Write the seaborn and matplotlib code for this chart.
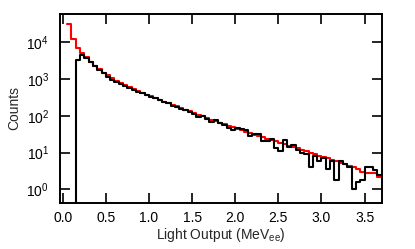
import numpy as np
import pandas as pd
import matplotlib
matplotlib.use("Agg")
import matplotlib.pyplot as plt
import seaborn as sns
from matplotlib.ticker import MultipleLocator, LogLocator, NullLocator, FormatStrFormatter

# 0.05 MeVee bins from 0.05 to 3.70
bin_edges = np.linspace(0.05, 3.70, 74)
bin_centers = bin_edges[:-1] + 0.025

# simulated spectrum (red)
sim_counts = [30900, 12590, 7244, 5129, 3981, 3020, 2344, 1862, 1514, 1259,
              1047, 891, 776, 676, 603, 525, 468, 427, 380, 339,
              309, 275, 245, 224, 200, 182, 162, 148, 132, 120,
              107, 98, 87, 79, 72, 65, 59, 54, 49, 45,
              41, 37, 34, 31, 29, 26, 24, 22.4, 20.4, 18.6,
              17.0, 15.5, 14.5, 13.2, 12.0, 11.0, 10.0, 9.1, 8.3, 7.6,
              6.9, 6.3, 5.8, 5.2, 4.8, 4.4, 4.0, 3.6, 2.9, 2.8,
              2.75, 2.7, 2.2]

# measured spectrum (black), threshold at 0.15
meas_counts = [0, 0, 3390, 4680, 3800, 2884, 2239, 1778, 1445, 1175,
               977, 851, 724, 631, 562, 513, 447, 407, 363, 331,
               302, 263, 240, 219, 191, 178, 155, 145, 126, 115,
               93, 98, 83, 69, 76, 63, 55, 46, 40, 46,
               43, 42, 28, 32, 32, 21, 20, 23, 13, 11,
               22, 14, 16, 12, 10, 9, 4, 8, 6, 7,
               3.6, 6, 1.8, 6, 5, 4, 1, 1.6, 1.8, 4,
               4, 3.4, 2.5]

df = pd.DataFrame({"light": bin_centers, "sim": sim_counts, "meas": meas_counts})

sns.set_style("ticks")
plt.rcParams["font.family"] = ["Liberation Sans", "DejaVu Sans"]
plt.rcParams["mathtext.fontset"] = "custom"
plt.rcParams["mathtext.rm"] = "Liberation Sans"
plt.rcParams["mathtext.it"] = "Liberation Sans:italic"

fig = plt.figure(figsize=(4.15, 2.49), dpi=100)
ax = fig.add_axes([0.145, 0.186, 0.775, 0.757])

sns.histplot(data=df, x="light", weights="sim", bins=list(bin_edges), element="step",
             fill=False, color="#ff0000", linewidth=1.5, ax=ax)
sns.histplot(data=df, x="light", weights="meas", bins=list(bin_edges), element="step",
             fill=False, color="black", linewidth=1.5, ax=ax)

ax.set_yscale("log")
ax.set_xlim(-0.03, 3.70)
ax.set_ylim(0.43, 10 ** 4.77)
ax.xaxis.set_major_locator(MultipleLocator(0.5))
ax.xaxis.set_major_formatter(FormatStrFormatter("%.1f"))
ax.yaxis.set_major_locator(LogLocator(base=10, numticks=10))
ax.yaxis.set_minor_locator(NullLocator())

ax.tick_params(direction="in", length=7.5, width=1.2, top=True, right=True,
               labelsize=10, colors="black")
ax.tick_params(axis="x", pad=6)
ax.tick_params(axis="y", pad=8)
for s in ax.spines.values():
    s.set_linewidth(1.4)
    s.set_color("black")

ax.set_xlabel("Light Output (MeV$_{\\mathrm{ee}}$)", fontsize=10, labelpad=1)
ax.set_ylabel("Counts", fontsize=10, labelpad=4)

fig.savefig("out.png", dpi=100)
